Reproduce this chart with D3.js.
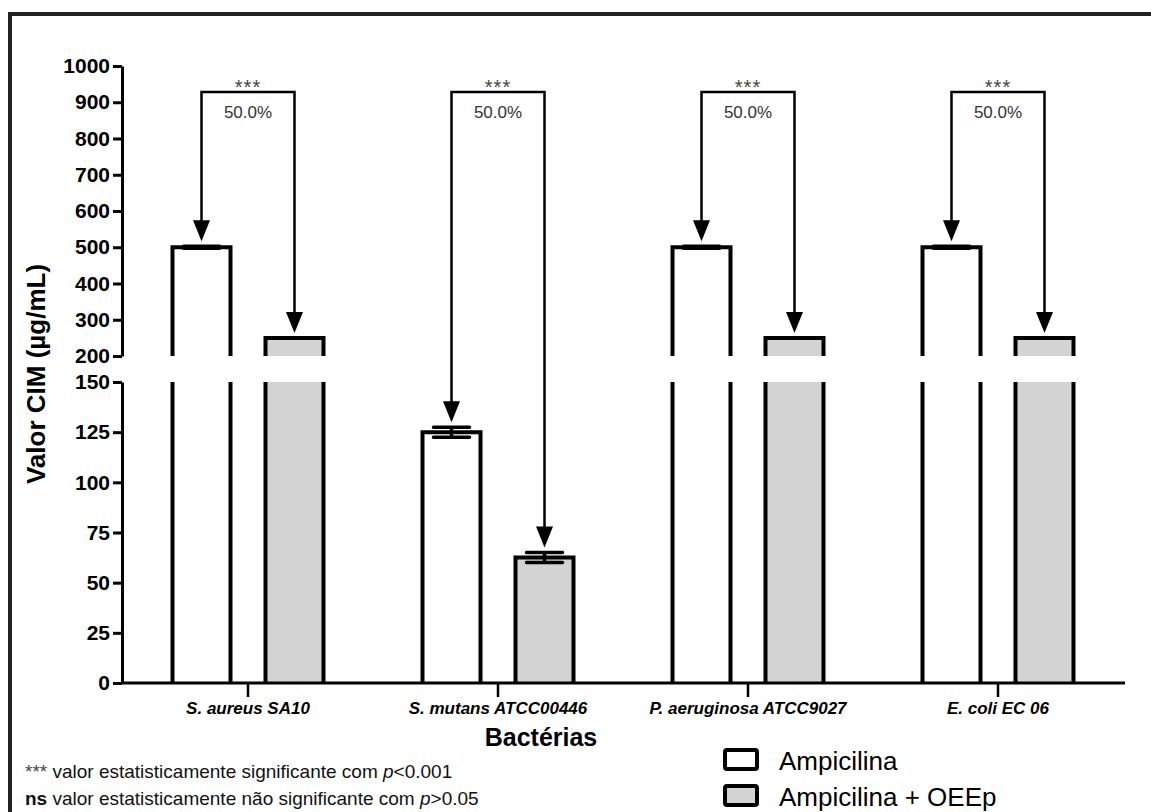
<!DOCTYPE html>
<html>
<head>
<meta charset="utf-8">
<script src="https://cdn.jsdelivr.net/npm/d3@7"></script>
<style>
  body { margin: 0; background: #fff; }
  svg { display: block; font-family: "Liberation Sans", Arial, sans-serif; }
</style>
</head>
<body>
<div id="chart"></div>
<script>
const categorias = ["S. aureus SA10", "S. mutans ATCC00446", "P. aeruginosa ATCC9027", "E. coli EC 06"];
const series = ["Ampicilina", "Ampicilina + OEEp"];
const ampicilina = [500, 125, 500, 500];
const ampicilinaOEEp = [250, 62.5, 250, 250];
const erroAmp = [2.5, 2.5, 2.5, 2.5];
const erroOEEp = [0, 2.5, 0, 0];
const significancia = ["***", "***", "***", "***"];
const reducao = ["50.0%", "50.0%", "50.0%", "50.0%"];
const ticksSup = [200, 300, 400, 500, 600, 700, 800, 900, 1000];
const ticksInf = [0, 25, 50, 75, 100, 125, 150];

const width = 1151, height = 812;
const svg = d3.select("#chart").append("svg")
  .attr("width", width).attr("height", height);

// moldura (só aparecem topo e esquerda)
svg.append("rect")
  .attr("x", 10).attr("y", 14)
  .attr("width", width + 20).attr("height", height + 20)
  .attr("fill", "none").attr("stroke", "#222").attr("stroke-width", 4);

// eixo y quebrado em dois segmentos
const ySup = d3.scaleLinear().domain([200, 1000]).range([356, 66]);
const yInf = d3.scaleLinear().domain([0, 150]).range([683, 382]);
const yVal = v => v > 150 ? ySup(v) : yInf(v);

const x0 = d3.scaleBand().domain(categorias).range([123, 1123]);
const x1 = d3.scaleBand().domain(series).range([32, 218]);
const barW = 58;

const rows = categorias.map((c, i) => ({
  cat: c, i,
  bars: [
    { s: series[0], v: ampicilina[i], e: erroAmp[i], fill: "#fff" },
    { s: series[1], v: ampicilinaOEEp[i], e: erroOEEp[i], fill: "#d3d3d3" }
  ]
}));

const g = svg.selectAll("g.grupo").data(rows).enter().append("g")
  .attr("class", "grupo")
  .attr("transform", d => `translate(${x0(d.cat)},0)`);

const bar = g.selectAll("g.barra").data(d => d.bars).enter().append("g")
  .attr("class", "barra");

bar.each(function(d) {
  const el = d3.select(this);
  const cx = x1(d.s) + x1.bandwidth() / 2;
  const xl = cx - barW / 2, xr = cx + barW / 2;
  // segmento superior
  if (d.v > 200) {
    const top = ySup(d.v);
    el.append("rect").attr("x", xl).attr("y", top).attr("width", barW)
      .attr("height", ySup(200) - top).attr("fill", d.fill);
    el.append("path")
      .attr("d", `M${xl},${ySup(200)}V${top}H${xr}V${ySup(200)}`)
      .attr("fill", "none").attr("stroke", "#000").attr("stroke-width", 4);
  }
  // segmento inferior
  const topI = d.v > 150 ? yInf(150) : yInf(d.v);
  el.append("rect").attr("x", xl).attr("y", topI).attr("width", barW)
    .attr("height", yInf(0) - topI).attr("fill", d.fill);
  el.append("path")
    .attr("d", d.v > 150
      ? `M${xl},${yInf(0)}V${topI}M${xr},${topI}V${yInf(0)}`
      : `M${xl},${yInf(0)}V${topI}H${xr}V${yInf(0)}`)
    .attr("fill", "none").attr("stroke", "#000").attr("stroke-width", 4);
  // barras de erro
  if (d.e > 0) {
    const a = yVal(d.v + d.e), b = yVal(d.v - d.e);
    el.append("path")
      .attr("d", `M${cx},${a}V${b}M${cx - 18},${a}H${cx + 18}M${cx - 18},${b}H${cx + 18}`)
      .attr("fill", "none").attr("stroke", "#000").attr("stroke-width", 3.5)
      .attr("stroke-linecap", "round");
  }
});

// colchetes de significância com setas
const yBracket = 92;
g.each(function(d) {
  const el = d3.select(this);
  const cxs = d.bars.map(b => x1(b.s) + x1.bandwidth() / 2);
  const tips = d.bars.map(b => yVal(b.v + b.e) - 5);
  el.append("path")
    .attr("d", `M${cxs[0]},${tips[0] - 18}V${yBracket}H${cxs[1]}V${tips[1] - 18}`)
    .attr("fill", "none").attr("stroke", "#000").attr("stroke-width", 2.5);
  cxs.forEach((cx, k) => {
    el.append("path")
      .attr("d", `M${cx - 8.5},${tips[k] - 21}L${cx + 8.5},${tips[k] - 21}L${cx},${tips[k]}Z`)
      .attr("fill", "#000");
  });
  const mid = (cxs[0] + cxs[1]) / 2;
  el.append("text").attr("x", mid).attr("y", 94)
    .attr("text-anchor", "middle").attr("font-size", 20).attr("fill", "#444")
    .attr("letter-spacing", 1)
    .text(significancia[d.i]);
  el.append("text").attr("x", mid).attr("y", 118)
    .attr("text-anchor", "middle").attr("font-size", 17).attr("fill", "#333")
    .text(reducao[d.i]);
});

// eixos y
function estiloEixo(sel) {
  sel.select(".domain").attr("stroke-width", 3);
  sel.selectAll(".tick line").attr("stroke-width", 3);
  sel.selectAll(".tick text")
    .attr("font-size", 21).attr("font-weight", "bold")
    .attr("font-family", "Liberation Sans, Arial, sans-serif").attr("fill", "#000");
}
svg.append("g").attr("transform", "translate(122,0)")
  .call(d3.axisLeft(ySup).tickValues(ticksSup).tickFormat(d3.format("d"))
    .tickSize(9).tickSizeOuter(0).tickPadding(3))
  .call(estiloEixo);
svg.append("g").attr("transform", "translate(122,0)")
  .call(d3.axisLeft(yInf).tickValues(ticksInf).tickFormat(d3.format("d"))
    .tickSize(9).tickSizeOuter(0).tickPadding(3))
  .call(estiloEixo);

// eixo x
const xAxis = svg.append("g").attr("transform", `translate(0,${yInf(0)})`)
  .call(d3.axisBottom(x0).tickSize(14).tickSizeOuter(0).tickPadding(4));
xAxis.select(".domain").attr("d", "M121,0H1125").attr("stroke-width", 3);
xAxis.selectAll(".tick line").attr("stroke-width", 2.5);
xAxis.selectAll(".tick text")
  .attr("font-size", 17).attr("font-weight", "bold").attr("font-style", "italic")
  .attr("font-family", "Liberation Sans, Arial, sans-serif").attr("fill", "#000")
  .attr("dy", "0.75em");

// títulos
svg.append("text")
  .attr("transform", "translate(45,374) rotate(-90)")
  .attr("text-anchor", "middle").attr("font-size", 26).attr("font-weight", "bold")
  .text("Valor CIM (µg/mL)");
svg.append("text")
  .attr("x", 541).attr("y", 746)
  .attr("text-anchor", "middle").attr("font-size", 25).attr("font-weight", "bold")
  .text("Bactérias");

// notas de rodapé
const n1 = svg.append("text").attr("x", 25).attr("y", 778).attr("font-size", 19).attr("fill", "#111");
n1.append("tspan").attr("fill", "#444").text("*** ");
n1.append("tspan").text("valor estatisticamente significante com ");
n1.append("tspan").attr("font-style", "italic").text("p");
n1.append("tspan").text("<0.001");
const n2 = svg.append("text").attr("x", 25).attr("y", 805).attr("font-size", 19).attr("fill", "#111");
n2.append("tspan").attr("font-weight", "bold").text("ns");
n2.append("tspan").text("  valor estatisticamente não significante com ");
n2.append("tspan").attr("font-style", "italic").text("p");
n2.append("tspan").text(">0.05");

// legenda
const leg = svg.selectAll("g.leg").data(series).enter().append("g")
  .attr("class", "leg")
  .attr("transform", (d, i) => `translate(725,${750 + i * 36})`);
leg.append("rect").attr("width", 32).attr("height", 19).attr("rx", 2)
  .attr("fill", (d, i) => i === 0 ? "#fff" : "#d3d3d3")
  .attr("stroke", "#000").attr("stroke-width", 4);
leg.append("text").attr("x", 54).attr("y", 20).attr("font-size", 26)
  .text(d => d);
</script>
</body>
</html>
